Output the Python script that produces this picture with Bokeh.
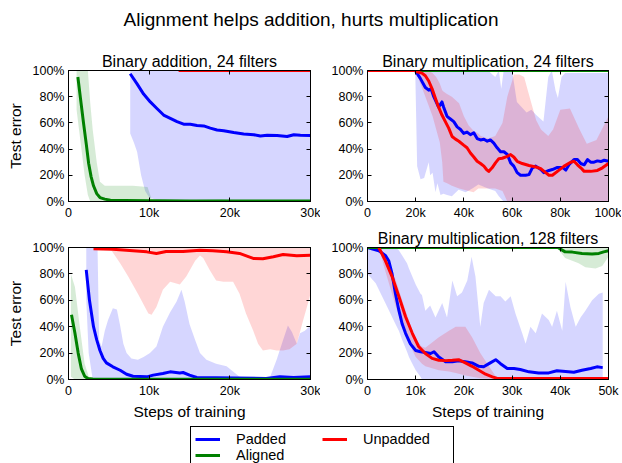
from bokeh.plotting import figure
from bokeh.layouts import column, row
from bokeh.models import Range1d, FixedTicker, LinearAxis, Legend, LegendItem
from bokeh.embed import file_html
from bokeh.resources import INLINE

FONT = "Liberation Sans"
BLUE = "#0000ff"
GREEN = "#008000"
RED = "#ff0000"
BAND_ALPHA = 0.16

# ---------------- data (x in thousands of training steps, y in % test error) ----------------
y_ticks = [0, 20, 40, 60, 80, 100]
y_tick_labels = ["0%", "20%", "40%", "60%", "80%", "100%"]

# Top-left: Binary addition, 24 filters
tl_ticks = [0, 10, 20, 30]
tl_tick_labels = ["0", "10k", "20k", "30k"]
tl_pad_x = [7.65, 8.48, 9.31, 10.14, 10.96, 11.79, 12.62, 13.45, 14.27, 15.10, 15.93, 16.76, 17.58,
            18.41, 19.24, 20.48, 21.72, 22.96, 23.79, 24.62, 25.86, 27.10, 27.93, 28.75, 30.0]
tl_pad_y = [97.5, 90, 82, 76, 71, 66, 63.5, 61, 59, 59, 58, 57.7, 56,
            54.6, 54, 52.6, 51.6, 51, 50, 50.5, 50.3, 49.6, 51, 50.6, 50.3]
tl_pad_band_x = [7.65, 8.1, 8.5, 9.0, 9.5, 10.0, 11.0, 30.0]
tl_pad_band_lo = [52, 45, 38, 20, 8, 3, 1, 0.5]
tl_pad_band_hi = [100, 100, 100, 100, 100, 100, 100, 100]
tl_ali_x = [1.16, 1.5, 1.86, 2.2, 2.5, 2.8, 3.1, 3.5, 3.9, 4.5, 5.2, 7.0, 10.0, 15.0, 20.0, 25.0, 30.0]
tl_ali_y = [95, 78, 60, 44, 29, 19, 12, 6, 3, 1.8, 1.0, 0.8, 0.5, 0.4, 0.4, 0.3, 0.3]
tl_ali_band_x = [1.0, 1.5, 2.0, 2.4, 2.7, 3.0, 3.5, 3.9, 4.5, 6.0, 8.0, 9.8, 10.3, 12.0, 15.0, 19.0, 21.0, 30.0]
tl_ali_band_lo = [70, 45, 20, 5, 0, 0, 0, 0, 0, 0, 0, 0, 0, 0, 0, 0, 0, 0]
tl_ali_band_hi = [100, 100, 100, 100, 75, 55, 30, 15, 12, 12, 12, 11, 2, 2, 1, 2, 0.5, 0.5]
tl_unp_x = [13.65, 30.0]
tl_unp_y = [100, 100]

# Top-right: Binary multiplication, 24 filters
tr_ticks = [0, 20, 40, 60, 80, 100]
tr_tick_labels = ["0", "20k", "40k", "60k", "80k", "100k"]
tr_pad_x = [0, 19.8, 21.9, 24.0, 25.4, 26.4, 27.5, 29.5, 30.9, 31.6, 33.0, 34.4, 35.8, 37.2, 38.6,
            39.9, 41.3, 42.7, 44.1, 45.5, 46.9, 48.3, 49.7, 51.0, 52.4, 53.8, 55.2, 56.6, 58.0, 59.4,
            60.7, 62.1, 63.5, 65.6, 67.0, 68.4, 69.8, 71.9, 73.2, 75.3, 76.7, 78.8, 80.9, 82.3, 83.6,
            85.7, 87.1, 88.5, 89.9, 91.3, 92.6, 94.0, 95.4, 96.8, 98.2, 100]
tr_pad_y = [100, 100, 94, 87, 85, 86, 80, 72, 76, 72, 65, 63, 61, 57, 55,
            52, 53, 51, 52.5, 48, 47, 47.5, 46, 47, 44.6, 41, 38, 38, 36, 29.5,
            27, 22, 20, 20, 20.5, 25.7, 27, 24.4, 22, 23.7, 24.4, 26, 26, 24, 28,
            32, 32, 29, 28, 32, 30, 30, 31, 30.5, 31.5, 30.7]
tr_pad_band_x = [19.8, 20.6, 22.0, 23.5, 25.4, 26.0, 27.0, 28.2, 29.0, 30.3, 31.5, 33.0, 35.0, 37.8,
                 40.7, 43.5, 46.0, 50.0, 53.0, 54.5, 55.5, 56.5, 58.0, 60.0, 62.0, 64.0, 66.0, 68.0,
                 70.0, 73.0, 75.0, 76.5, 78.0, 79.0, 80.5, 82.0, 100.0]
tr_pad_band_hi = [100, 100, 100, 100, 100, 100, 100, 100, 100, 100, 100, 100, 100, 100,
                  100, 100, 100, 100, 95, 100, 86, 100, 100, 100, 76, 72, 68, 70,
                  66, 61, 95, 100, 85, 79, 95, 98, 98]
tr_pad_band_lo = [100, 27, 17, 18, 30, 20, 22, 7, 14, 5, 6, 5, 4, 9,
                  7, 10, 13, 10, 8, 4, 2, 0, 0, 0, 0, 0, 0, 0,
                  0, 0, 0, 0, 0, 0, 0, 0, 0]
tr_ali_x = [0, 100]
tr_ali_y = [100, 100]
tr_unp_x = [0, 20.0, 20.5, 22.6, 24.0, 25.4, 26.8, 28.2, 29.5, 30.9, 32.3, 33.7, 35.1, 36.5, 37.9,
            39.9, 41.3, 42.7, 44.1, 45.5, 46.9, 48.3, 49.4, 50.3, 51.7, 53.1, 54.5, 55.9, 58.0, 59.4,
            60.7, 62.1, 64.2, 67.0, 69.8, 71.9, 73.9, 75.3, 76.7, 78.8, 81.6, 84.3, 85.7, 87.1, 88.5,
            89.9, 92.6, 95.4, 97.5, 100]
tr_unp_y = [100, 100, 99, 98, 96, 92, 86, 78.6, 72, 66, 61, 56, 49.6, 47.6, 46,
            43, 41, 37, 34, 30.7, 29, 27, 24.4, 23, 25.7, 29.5, 32.7, 33, 34.5, 35.8,
            34, 30.7, 29, 27.5, 26.4, 25, 22, 20, 20, 23, 27, 30, 30.7, 28, 25.7,
            23, 23, 23.7, 25.7, 29]
tr_unp_band_x = [20.0, 21.5, 23.0, 25.0, 27.0, 28.5, 30.0, 31.0, 31.5, 33.0, 35.0, 38.0, 40.0, 42.0,
                 44.0, 46.0, 47.0, 50.0, 53.0, 56.0, 58.0, 60.0, 60.7, 63.0, 65.0, 66.5, 68.0, 70.0,
                 72.0, 75.0, 77.0, 80.0, 84.0, 88.0, 91.0, 95.0, 100.0]
tr_unp_band_hi = [100, 100, 100, 100, 98, 95, 90, 85, 84, 82, 80, 75, 65, 58,
                  54, 52, 50, 48, 50, 60, 80, 92, 97, 97, 95, 85, 75, 62,
                  55, 50, 55, 70, 71, 55, 44, 47, 65]
tr_unp_band_lo = [100, 92, 85, 75, 65, 55, 45, 30, 15, 14, 12, 10, 9, 8,
                  7, 10, 10, 10, 10, 8, 0, 0, 0, 0, 0, 0, 0, 0,
                  0, 0, 0, 0, 0, 0, 0, 0, 0]

# Bottom-left (no title)
bl_ticks = [0, 10, 20, 30]
bl_tick_labels = ["0", "10k", "20k", "30k"]
bl_pad_x = [2.2, 2.6, 3.1, 3.5, 3.9, 4.3, 4.7, 5.5, 6.4, 7.2, 8.0, 9.7, 10.5, 11.7, 12.6, 13.8,
            14.2, 15.0, 15.9, 18.3, 24.5, 26.2, 27.9, 30.0]
bl_pad_y = [83, 60, 40, 30, 22, 16, 12.6, 9.6, 7, 4, 2.5, 2, 3.3, 4.5, 5.8, 5,
            5.3, 3.3, 1.5, 1.3, 0.8, 2, 1.5, 2]
bl_pad_band_x = [2.2, 2.5, 3.0, 3.6, 3.8, 4.1, 4.5, 4.9, 5.5, 6.0, 6.4, 6.8, 7.2, 7.8, 8.6, 9.3,
                 10.1, 10.9, 11.7, 12.6, 13.4, 14.0, 14.4, 15.0, 15.7, 16.3, 17.1, 18.3, 19.6, 20.4,
                 21.2, 22.0, 24.1, 25.0, 25.8, 26.6, 27.2, 27.7, 28.3, 28.7, 29.3, 30.0]
bl_pad_band_hi = [100, 100, 100, 100, 30, 25, 37, 45, 54, 53, 41, 27, 20, 16, 15, 17,
                  20, 25, 40, 51, 59, 68, 59, 42, 30, 20, 15, 12, 10, 6,
                  2, 1.5, 1.5, 2, 15, 30, 41, 36, 27, 35, 37, 41]
bl_pad_band_lo = [60, 20, 0, 0, 0, 0, 0, 0, 0, 0, 0, 0, 0, 0, 0, 0,
                  0, 0, 0, 0, 0, 0, 0, 0, 0, 0, 0, 0, 0, 0,
                  0, 0, 0, 0, 0, 0, 0, 0, 0, 0, 0, 0]
bl_ali_x = [0.37, 0.8, 1.2, 1.6, 2.0, 2.4, 3.0, 10.0, 20.0, 30.0]
bl_ali_y = [49, 35, 20, 8, 2.5, 0.8, 0.3, 0.2, 0.2, 0.2]
bl_ali_band_x = [0.3, 0.8, 1.4, 2.0, 2.6]
bl_ali_band_hi = [80, 70, 40, 12, 0.5]
bl_ali_band_lo = [2, 0, 0, 0, 0]
bl_unp_x = [3.1, 5.5, 8.0, 9.7, 10.9, 12.1, 14.2, 16.3, 17.9, 19.6, 21.2, 22.9, 24.1, 25.4, 26.6, 28.3, 30.0]
bl_unp_y = [99, 98.7, 97.5, 96.7, 95.5, 97, 97, 98, 97.5, 96.7, 95.5, 91.7, 91.5, 93, 94.7, 93.8, 94.2]
bl_unp_band_x = [3.1, 5.3, 6.4, 7.4, 8.6, 9.9, 10.3, 10.9, 11.7, 12.6, 13.8, 14.6, 15.7, 16.3, 16.7, 17.5,
                 18.3, 19.2, 20.4, 21.2, 22.0, 22.9, 23.5, 24.1, 25.0, 25.8, 26.6, 27.4, 28.3, 29.1,
                 29.7, 30.0]
bl_unp_band_hi = [100, 100, 100, 100, 100, 100, 100, 100, 100, 100, 100, 100, 100, 100, 100, 100,
                  100, 100, 100, 100, 100, 100, 100, 100, 100, 100, 100, 100, 100, 100,
                  100, 100]
bl_unp_band_lo = [99, 98, 88, 78, 65, 50, 49, 55, 68, 74, 72, 78, 90, 94, 92, 83,
                  75, 74, 74, 65, 50, 37, 27, 22, 23, 22, 22, 23, 27, 45,
                  58, 65]

# Bottom-right: Binary multiplication, 128 filters
br_ticks = [0, 10, 20, 30, 40, 50]
br_tick_labels = ["0", "10k", "20k", "30k", "40k", "50k"]
br_pad_x = [0, 2.35, 3.7, 4.4, 5.1, 5.8, 6.5, 7.2, 7.9, 8.9, 10.0, 11.0, 12.0, 13.1, 13.8, 14.8,
            16.2, 17.6, 18.9, 20.3, 21.7, 23.1, 24.1, 25.2, 26.6, 27.6, 29.0, 30.4, 31.7, 33.5,
            35.5, 37.6, 39.3, 41.1, 42.8, 44.5, 46.3, 47.6, 48.8]
br_pad_y = [100, 97.5, 94, 90, 80, 65, 52.5, 42, 35, 27, 22, 21, 20.5, 19.7, 21, 17,
            13.4, 13.4, 14.1, 13.4, 12.6, 10, 9.6, 12, 15, 12, 8.3, 8.3, 7.6, 5.8,
            5, 5, 6.6, 6, 5.5, 7, 8.3, 9.6, 9]
br_pad_band_x = [0, 1.7, 3.7, 5.8, 6.5, 7.2, 8.2, 8.6, 9.3, 10.0, 11.0, 11.3, 12.0, 13.0, 14.1, 15.5,
                 16.5, 17.6, 18.6, 19.6, 20.7, 21.6, 22.4, 23.4, 24.1, 25.2, 26.6, 27.6, 28.6, 29.7,
                 30.7, 32.1, 32.8, 33.8, 34.9, 36.2, 37.6, 38.3, 39.3, 40.4, 41.1, 42.1, 43.2, 44.2,
                 45.2, 46.6, 48.0, 48.8]
br_pad_band_hi = [100, 100, 100, 100, 98, 94, 88, 84, 78, 72, 65, 64, 52, 56, 47, 58,
                  47, 75, 63, 66, 75, 93, 78, 40, 58, 68, 63, 63, 59, 63,
                  50, 35, 27, 40, 35, 50, 45, 40, 52, 37, 74, 55, 40, 47,
                  52, 60, 65, 66]
br_pad_band_lo = [80, 73, 58, 42, 37, 30, 21, 17, 12, 7, 2, 0, 0, 0, 0, 0,
                  0, 0, 0, 0, 0, 0, 0, 0, 0, 0, 0, 0, 0, 0,
                  0, 0, 0, 0, 0, 0, 0, 0, 0, 0, 0, 0, 0, 0,
                  0, 0, 0, 0]
br_ali_x = [0, 39.5, 41.0, 42.5, 44.5, 46.6, 48.0, 49.0, 50.0]
br_ali_y = [100, 100, 96.7, 96.5, 95.5, 95, 95.5, 96.7, 97.5]
br_ali_band_x = [39.3, 41.0, 43.8, 45.2, 47.3, 48.7, 50.0]
br_ali_band_hi = [100, 100, 100, 100, 100, 100, 100]
br_ali_band_lo = [100, 92, 88, 85, 84, 86, 93]
br_unp_x = [2.35, 3.7, 5.1, 6.5, 7.9, 9.3, 10.6, 12.0, 13.4, 14.8, 16.2, 17.6, 18.9, 20.3, 21.7,
            23.1, 24.5, 25.9, 26.9, 30.7, 40.0, 50.0]
br_unp_y = [100, 90, 78, 63, 47.5, 35, 25, 19.7, 16, 14.6, 14.3, 14.6, 15, 12.6, 10,
            7, 4, 2, 0.8, 0.8, 0.8, 0.8]
br_unp_band_x = [2.35, 3.7, 5.8, 7.9, 10.0, 11.3, 12.0, 14.8, 16.9, 18.3, 20.3, 21.7, 23.4, 25.2,
                 26.6, 27.5, 30.0, 50.0]
br_unp_band_hi = [100, 95, 76, 52, 30, 25, 24, 32, 37, 40, 40, 32, 20, 10, 2.5, 1.2, 1.2, 1.2]
br_unp_band_lo = [100, 82, 56, 33, 17, 12, 10, 7, 6, 5, 3, 2, 1, 0.5, 0.3, 0.3, 0.3, 0.3]

main_title = "Alignment helps addition, hurts multiplication"
series_names = ["Padded", "Aligned", "Unpadded"]


# ---------------- helpers ----------------
def style_axis(ax, ticks, labels=None):
    ax.ticker = FixedTicker(ticks=ticks)
    ax.major_tick_in = 4
    ax.major_tick_out = 0
    ax.minor_tick_line_color = None
    ax.axis_line_color = "black"
    ax.major_tick_line_color = "black"
    if labels is not None:
        ax.major_label_overrides = {t: l for t, l in zip(ticks, labels)}
        ax.major_label_text_font = FONT
        ax.major_label_text_font_size = "12.5px"
        ax.major_label_text_color = "black"
        ax.major_label_standoff = 4
    else:
        # mirror axis: ticks only, no labels drawn
        ax.major_label_text_font_size = "0px"
        ax.major_label_text_color = None
        ax.major_label_standoff = 0


def panel(title, xmax, xt, xl, width, height, mbl, mbr, mbt, mbb, ylabel=None, xlabel=None, tstand=2):
    p = figure(width=width, height=height, x_range=Range1d(0, xmax), y_range=Range1d(0, 100),
               output_backend="svg", toolbar_location=None,
               min_border_left=mbl, min_border_right=mbr, min_border_top=mbt, min_border_bottom=mbb)
    p.grid.visible = False
    p.outline_line_color = "black"
    p.background_fill_color = "white"
    p.border_fill_color = "white"
    if title:
        p.title.text = title
        p.title.align = "center"
        p.title.text_font = FONT
        p.title.text_font_size = "16px"
        p.title.text_font_style = "normal"
        p.title.text_color = "black"
        p.title.standoff = tstand
    style_axis(p.xaxis[0], xt, xl)
    style_axis(p.yaxis[0], y_ticks, y_tick_labels)
    for a in [p.xaxis[0], p.yaxis[0]]:
        a.axis_label_text_font = FONT
        a.axis_label_text_font_size = "15.5px"
        a.axis_label_text_font_style = "normal"
        a.axis_label_text_color = "black"
    if ylabel:
        p.yaxis[0].axis_label = ylabel
        p.yaxis[0].axis_label_standoff = 6
    if xlabel:
        p.xaxis[0].axis_label = xlabel
        p.xaxis[0].axis_label_standoff = 2
    ra = LinearAxis()
    style_axis(ra, y_ticks)
    p.add_layout(ra, "right")
    ta = LinearAxis()
    style_axis(ta, xt)
    p.add_layout(ta, "above")
    return p


def draw(p, pad, ali, unp):
    for (bx, blo, bhi), col in [(pad[2], BLUE), (ali[2], GREEN), (unp[2], RED)]:
        if bx is not None:
            p.varea(x=bx, y1=blo, y2=bhi, fill_color=col, fill_alpha=BAND_ALPHA)
    for (lx, ly), col in [((pad[0], pad[1]), BLUE), ((ali[0], ali[1]), GREEN), ((unp[0], unp[1]), RED)]:
        p.line(x=lx, y=ly, line_color=col, line_width=3, line_join="round")


# ---------------- figures ----------------
tp = figure(width=621, height=36, output_backend="svg", toolbar_location=None,
            x_axis_type=None, y_axis_type=None, min_border_top=35, min_border_bottom=0,
            min_border_left=0, min_border_right=0,
            x_range=Range1d(0, 1), y_range=Range1d(0, 1))
tp.outline_line_color = None
tp.grid.visible = False
tp.title.text = main_title
tp.title.align = "center"
tp.title.text_font = FONT
tp.title.text_font_size = "19px"
tp.title.text_font_style = "normal"
tp.title.text_color = "black"
tp.title.standoff = 11
tp.scatter(x=[], y=[])

p1 = panel("Binary addition, 24 filters", 30, tl_ticks, tl_tick_labels, 320, 186, 68, 10, 34, 20,
           ylabel="Test error")
draw(p1, (tl_pad_x, tl_pad_y, (tl_pad_band_x, tl_pad_band_lo, tl_pad_band_hi)),
     (tl_ali_x, tl_ali_y, (tl_ali_band_x, tl_ali_band_lo, tl_ali_band_hi)),
     (tl_unp_x, tl_unp_y, (None, None, None)))

p2 = panel("Binary multiplication, 24 filters", 100, tr_ticks, tr_tick_labels, 301, 186, 47, 13, 34, 20)
draw(p2, (tr_pad_x, tr_pad_y, (tr_pad_band_x, tr_pad_band_lo, tr_pad_band_hi)),
     (tr_ali_x, tr_ali_y, (None, None, None)),
     (tr_unp_x, tr_unp_y, (tr_unp_band_x, tr_unp_band_lo, tr_unp_band_hi)))

p3 = panel(None, 30, bl_ticks, bl_tick_labels, 320, 201, 68, 10, 25, 44,
           ylabel="Test error", xlabel="Steps of training")
draw(p3, (bl_pad_x, bl_pad_y, (bl_pad_band_x, bl_pad_band_lo, bl_pad_band_hi)),
     (bl_ali_x, bl_ali_y, (bl_ali_band_x, bl_ali_band_lo, bl_ali_band_hi)),
     (bl_unp_x, bl_unp_y, (bl_unp_band_x, bl_unp_band_lo, bl_unp_band_hi)))

p4 = panel("Binary multiplication, 128 filters", 50, br_ticks, br_tick_labels, 301, 201, 47, 13, 25, 44,
           xlabel="Steps of training", tstand=2)
draw(p4, (br_pad_x, br_pad_y, (br_pad_band_x, br_pad_band_lo, br_pad_band_hi)),
     (br_ali_x, br_ali_y, (br_ali_band_x, br_ali_band_lo, br_ali_band_hi)),
     (br_unp_x, br_unp_y, (br_unp_band_x, br_unp_band_lo, br_unp_band_hi)))

# legend figure (its line renderers use the series data but lie outside its visible range)
lp = figure(width=621, height=40, output_backend="svg", toolbar_location=None,
            x_axis_type=None, y_axis_type=None, min_border=0,
            x_range=Range1d(-20, -10), y_range=Range1d(-20, -10))
lp.outline_line_color = None
lp.grid.visible = False
r_pad = lp.line(x=tl_pad_x, y=tl_pad_y, line_color=BLUE, line_width=3)
r_ali = lp.line(x=tl_ali_x, y=tl_ali_y, line_color=GREEN, line_width=3)
r_unp = lp.line(x=tl_unp_x, y=tl_unp_y, line_color=RED, line_width=3)
legend = Legend(items=[LegendItem(label=series_names[0], renderers=[r_pad]),
                       LegendItem(label=series_names[1], renderers=[r_ali]),
                       LegendItem(label=series_names[2], renderers=[r_unp])],
                location=(190, -5), ncols=2, orientation="vertical",
                glyph_width=25, glyph_height=14, label_height=14, label_width=86,
                label_standoff=16, spacing=0, padding=4, margin=0,
                label_text_font=FONT, label_text_font_size="14.5px", label_text_color="black",
                border_line_color="black", border_line_width=1, border_line_alpha=1,
                background_fill_color="white", background_fill_alpha=1)
lp.add_layout(legend)

layout = column(tp, row(p1, p2), row(p3, p4), lp)

with open("out.html", "w") as f:
    f.write(file_html(layout, INLINE))
